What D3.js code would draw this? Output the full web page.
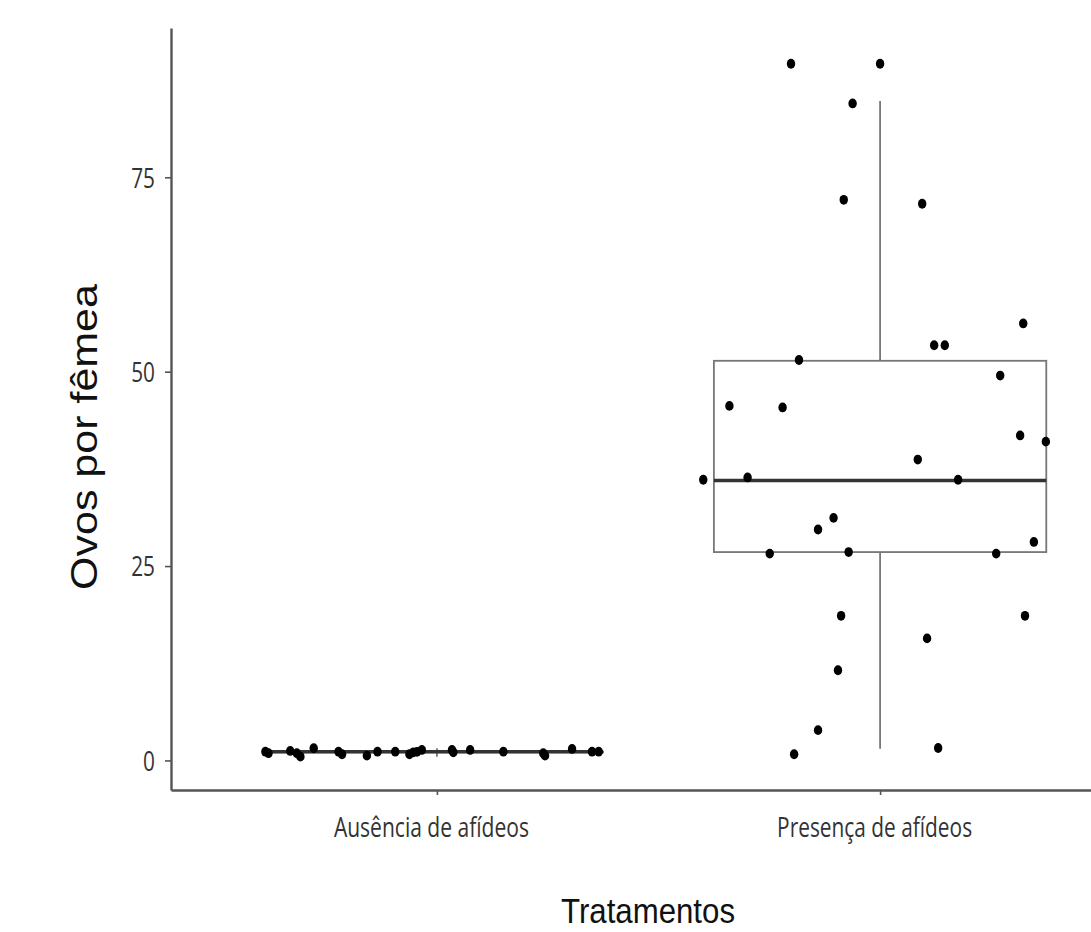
<!DOCTYPE html>
<html>
<head>
<meta charset="utf-8">
<script src="https://cdn.jsdelivr.net/npm/d3@7"></script>
<style>
  body { margin: 0; background: #fff; }
  svg { display: block; }
</style>
</head>
<body>
<div id="chart"></div>
<script>
// categories and data
var categories = ["Ausência de afídeos", "Presença de afídeos"];
var yTicks = [0, 25, 50, 75];

// jittered points: horizontal jitter (category units) and eggs per female
var ausenciaJitter = [-0.387, -0.380, -0.331, -0.316, -0.308, -0.278, -0.222, -0.214, -0.158, -0.134, -0.094, -0.062, -0.053, -0.045, -0.034, 0.034, 0.037, 0.075, 0.150, 0.240, 0.244, 0.305, 0.350, 0.365];
var ausenciaOvos   = [1.13, 0.93, 1.22, 0.93, 0.49, 1.57, 1.13, 0.80, 0.62, 1.13, 1.13, 0.80, 1.05, 1.10, 1.35, 1.35, 1.05, 1.35, 1.13, 0.93, 0.62, 1.48, 1.13, 1.13];

var presencaJitter = [-0.201, 0.000, -0.062, -0.082, 0.095, 0.323, 0.122, 0.146, -0.183, 0.271, -0.340, -0.220, 0.316, 0.374, 0.085, -0.399, -0.299, 0.176, -0.105, -0.140, 0.347, -0.249, -0.071, 0.262, -0.088, 0.327, 0.106, -0.095, -0.140, -0.194, 0.131];
var presencaOvos   = [89.6, 89.6, 84.5, 72.1, 71.6, 56.2, 53.4, 53.4, 51.5, 49.5, 45.6, 45.4, 41.8, 41.0, 38.7, 36.1, 36.4, 36.1, 31.2, 29.7, 28.1, 26.6, 26.8, 26.6, 18.6, 18.6, 15.7, 11.6, 3.9, 0.8, 1.6];

// box stats per group: lower whisker, q1, median, q3, upper whisker
var boxLower  = [0.49, 1.5];
var boxQ1     = [1.05, 26.8];
var boxMedian = [1.13, 36.0];
var boxQ3     = [1.13, 51.4];
var boxUpper  = [1.57, 84.8];

var width = 1091, height = 932;

var svg = d3.select("#chart")
  .append("svg")
  .attr("width", width)
  .attr("height", height);

svg.append("rect").attr("width", width).attr("height", height).attr("fill", "#fff");

var x = d3.scaleLinear().domain([0.4, 2.6]).range([171, 1146]);
var y = d3.scaleLinear().domain([-3.8, 94.2]).range([790, 28]);

var squeeze = 0.77;  // picture is horizontally compressed

// --- y axis
var yAxis = d3.axisLeft(y).tickValues(yTicks).tickSize(6).tickSizeOuter(0).tickPadding(0);
var gy = svg.append("g").attr("transform", "translate(171,0)").call(yAxis);
gy.select(".domain").attr("stroke", "#555").attr("stroke-width", 2.4);
gy.selectAll(".tick line").attr("stroke", "#555").attr("stroke-width", 1.6);
gy.selectAll(".tick text")
  .attr("x", -16 / squeeze)
  .attr("dy", "0.36em")
  .attr("transform", "scale(" + squeeze + ",1)")
  .attr("font-family", "'Open Sans', sans-serif")
  .attr("font-size", 27)
  .attr("fill", "#333");

// --- x axis
var xAxis = d3.axisBottom(x).tickValues([1, 2])
  .tickFormat(function(d) { return categories[d - 1]; })
  .tickSize(5).tickSizeOuter(0);
var gx = svg.append("g").attr("transform", "translate(0,790)").call(xAxis);
gx.select(".domain").attr("stroke", "#555").attr("stroke-width", 2.4);
gx.selectAll(".tick line").attr("stroke", "#555").attr("stroke-width", 1.6);
gx.selectAll(".tick text")
  .attr("x", -6)
  .attr("y", 47)
  .attr("dy", 0)
  .attr("font-family", "'Open Sans', sans-serif")
  .attr("font-size", 27)
  .attr("fill", "#333")
  .attr("textLength", 195)
  .attr("lengthAdjust", "spacingAndGlyphs");

// --- boxplots
var groups = [0, 1];
var boxes = svg.selectAll(".box")
  .data(groups)
  .enter()
  .append("g")
  .attr("class", "box");

boxes.append("line")
  .attr("x1", function(i) { return x(i + 1); })
  .attr("x2", function(i) { return x(i + 1); })
  .attr("y1", function(i) { return y(boxUpper[i]); })
  .attr("y2", function(i) { return y(boxQ3[i]); })
  .attr("stroke", "#777").attr("stroke-width", 1.8);

boxes.append("line")
  .attr("x1", function(i) { return x(i + 1); })
  .attr("x2", function(i) { return x(i + 1); })
  .attr("y1", function(i) { return y(boxQ1[i]); })
  .attr("y2", function(i) { return y(boxLower[i]); })
  .attr("stroke", "#777").attr("stroke-width", 1.8);

boxes.append("rect")
  .attr("x", function(i) { return x(i + 1 - 0.375); })
  .attr("width", function(i) { return x(i + 1 + 0.375) - x(i + 1 - 0.375); })
  .attr("y", function(i) { return y(boxQ3[i]); })
  .attr("height", function(i) { return y(boxQ1[i]) - y(boxQ3[i]); })
  .attr("fill", "#fff")
  .attr("stroke", "#777").attr("stroke-width", 1.8);

boxes.append("line")
  .attr("x1", function(i) { return x(i + 1 - 0.375); })
  .attr("x2", function(i) { return x(i + 1 + 0.375); })
  .attr("y1", function(i) { return y(boxMedian[i]); })
  .attr("y2", function(i) { return y(boxMedian[i]); })
  .attr("stroke", "#333").attr("stroke-width", 3.5);

// --- jittered points
var points = [];
ausenciaOvos.forEach(function(v, k) { points.push({ g: 1, j: ausenciaJitter[k], v: v }); });
presencaOvos.forEach(function(v, k) { points.push({ g: 2, j: presencaJitter[k], v: v }); });

svg.selectAll(".pt")
  .data(points)
  .enter()
  .append("ellipse")
  .attr("class", "pt")
  .attr("cx", function(d) { return x(d.g + d.j); })
  .attr("cy", function(d) { return y(d.v); })
  .attr("rx", 4.2)
  .attr("ry", 4.9)
  .attr("fill", "#000");

// --- axis titles
svg.append("text")
  .attr("text-anchor", "middle")
  .attr("x", 648)
  .attr("y", 923)
  .attr("font-family", "'Liberation Sans', Arial, sans-serif")
  .attr("font-size", 35)
  .attr("fill", "#111")
  .attr("textLength", 174)
  .attr("lengthAdjust", "spacingAndGlyphs")
  .text("Tratamentos");

svg.append("text")
  .attr("text-anchor", "middle")
  .attr("transform", "translate(97,437) scale(0.85,1) rotate(-90)")
  .attr("font-family", "'Liberation Sans', Arial, sans-serif")
  .attr("font-size", 43)
  .attr("fill", "#111")
  .text("Ovos por fêmea");
</script>
</body>
</html>
